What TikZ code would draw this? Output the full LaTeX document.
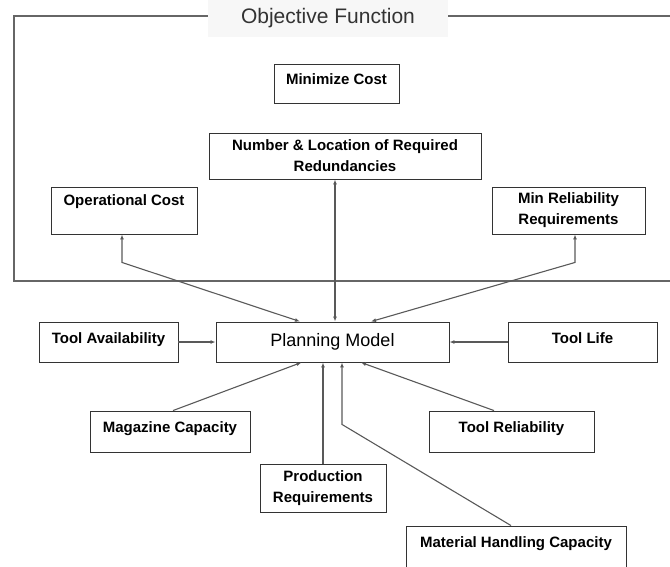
\documentclass[tikz,border=0pt]{standalone}
\usepackage{fontspec}
\setmainfont{Liberation Sans}
\usepackage{tikz}
\usetikzlibrary{arrows.meta}

\begin{document}
\begin{tikzpicture}[x=1pt, y=-1pt,
    box/.style={draw=black!80, line width=0.9pt, inner sep=0pt, align=center,
                font=\bfseries\fontsize{15}{21}\selectfont},
    raised/.style={text height=11pt, text depth=9pt},
    link/.style={draw=black!65, line width=1.1pt, -{Latex[length=5pt,width=4pt]}},
    both/.style={link, {Latex[length=5pt,width=4pt]}-{Latex[length=5pt,width=4pt]}}]
             \clip (0,0) rectangle (670,566);

             \draw[draw=black!60, line width=2.4pt] (208,16) -- (14,16) -- (14,281) -- (672,281);
             \draw[draw=black!60, line width=2.4pt] (448,16) -- (672,16);
             \node[fill=black!3, minimum width=240pt, minimum height=37pt, text=black!80,
                   font=\fontsize{21}{24}\selectfont] (title) at (328,18.5) {Objective Function};

             \node[box, raised, minimum width=125pt, minimum height=39pt] (mincost) at (336.5,83.5) {Minimize Cost};
             \node[box, minimum width=272pt, minimum height=46pt] (redund) at (345,156) {Number \& Location of Required\\Redundancies};
             \node[box, minimum width=146pt, minimum height=47pt] (opcost) at (124,210.5) {Operational Cost\\\mbox{}};
             \node[box, minimum width=153pt, minimum height=47pt] (minrel) at (568.5,210.5) {Min Reliability\\Requirements};

             \node[box, font=\fontsize{18}{22}\selectfont, minimum width=233pt, minimum height=40pt] (plan) at (332.5,342) {Planning Model};
             \node[box, raised, minimum width=139pt, minimum height=40pt] (toolav) at (108.5,342) {Tool Availability};
             \node[box, raised, minimum width=149pt, minimum height=40pt] (toollife) at (582.5,342) {Tool Life};

             \node[box, raised, minimum width=160pt, minimum height=41pt] (magcap) at (170,431.5) {Magazine Capacity};
             \node[box, raised, minimum width=165pt, minimum height=41pt] (toolrel) at (511.5,431.5) {Tool Reliability};
             \node[box, minimum width=126pt, minimum height=48pt] (prod) at (323,488) {Production\\Requirements};
             \node[box, minimum width=220pt, minimum height=54pt] (mhc) at (516,553) {Material Handling Capacity\\\mbox{}};

             \draw[both] ([xshift=-2pt]opcost.south) -- ++(0,28) -- ([xshift=-32.5pt]plan.north);
             \draw[both] ([xshift=-10pt]redund.south) -- ([xshift=2.5pt]plan.north);
             \draw[both] ([xshift=6.5pt]minrel.south) -- ++(0,28) -- ([xshift=38.5pt]plan.north);

             \draw[link] (toolav.east) -- (plan.west);
             \draw[link] (toollife.west) -- (plan.east);
             \draw[link] ([xshift=3pt]magcap.north) -- ([xshift=-31pt]plan.south);
             \draw[link] (prod.north) -- (prod.north |- plan.south);
             \draw[link] ([xshift=-5pt]mhc.north) -- ([xshift=9.5pt,yshift=-62pt]plan.south) -- ([xshift=9.5pt]plan.south);
             \draw[link] ([xshift=-17.5pt]toolrel.north) -- ([xshift=28.5pt]plan.south);
\end{tikzpicture}
\end{document}
